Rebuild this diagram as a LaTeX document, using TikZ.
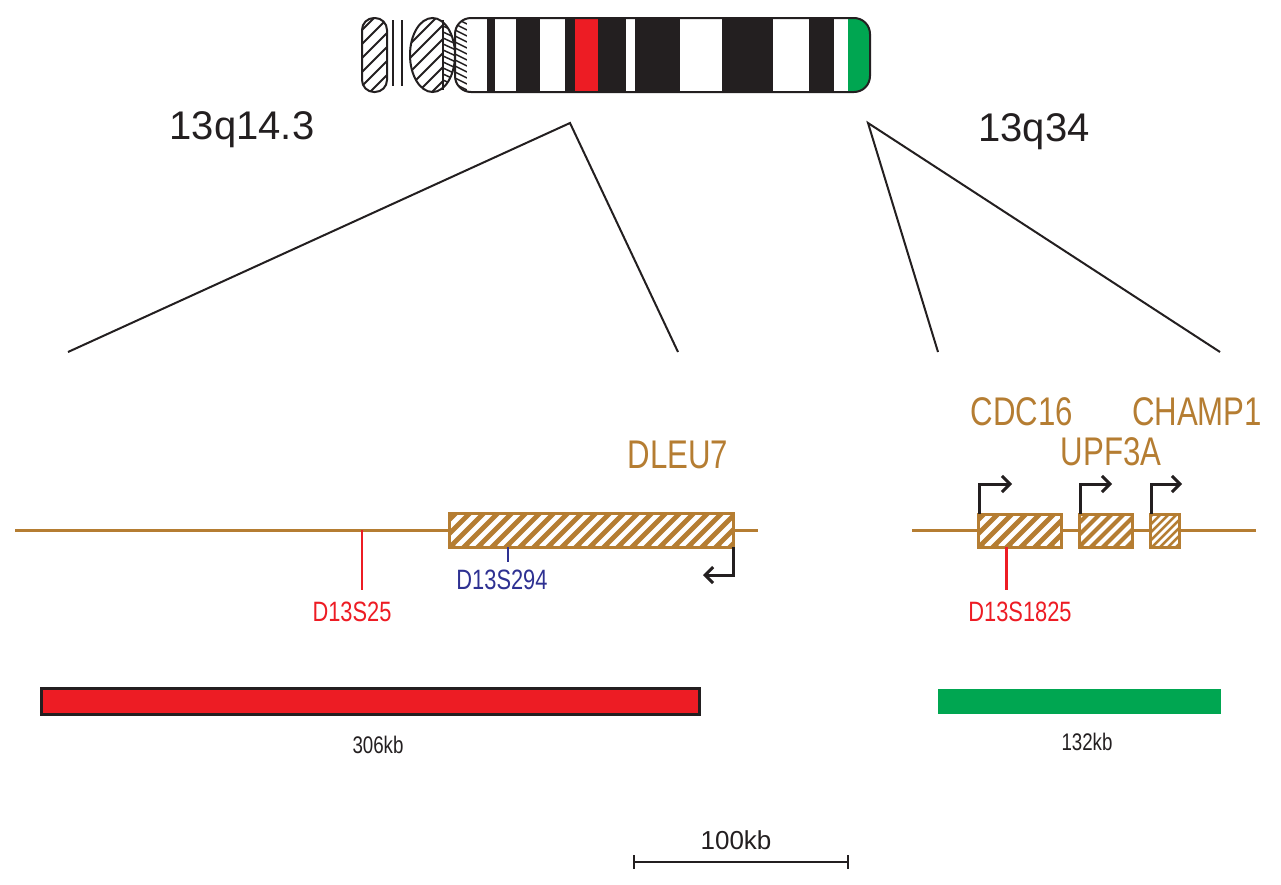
\documentclass[tikz,border=0pt]{standalone}
\usepackage{fontspec}
\setmainfont{Liberation Sans}
\newfontfamily\narrowfont{Liberation Sans}[FakeStretch=0.78]
\usepackage{tikz}
\definecolor{genebrown}{RGB}{181,125,50}
\definecolor{delred}{RGB}{237,28,36}
\definecolor{ampgreen}{RGB}{0,166,81}
\definecolor{markblue}{RGB}{46,49,146}
\definecolor{bandblack}{RGB}{35,31,32}
\tikzset{
  gene/.style={genebrown, line width=3pt},
  glabel/.style={text=genebrown, font=\narrowfont\fontsize{40}{40}\selectfont},
  mlabel/.style={font=\narrowfont\fontsize{28}{28}\selectfont},
  zoomline/.style={bandblack, line width=2pt},
  tss/.style={bandblack, line width=3pt, -{Straight Barb[length=8pt,width=16pt]}},
}
\usetikzlibrary{arrows.meta}
% hatched box: x1, y1, x2, y2, spacing, stripe colour, background
\newcommand{\hatchbox}[7]{%
  \begin{scope}
    \clip (#1,#2) rectangle (#3,#4);
    \fill[#7] (#1,#2) rectangle (#3,#4);
    \pgfmathtruncatemacro{\hstep}{-90+#5}
    \foreach \s in {-90,\hstep,...,420}
      \draw[#6, line width=#5*0.35pt] (#1+\s,#4) -- ++(90,-90);
  \end{scope}}
\begin{document}
\begin{tikzpicture}[x=1pt, y=-1pt]
	\useasboundingbox (0,0) rectangle (1281,884);

	% chromosome, short arm
	\begin{scope}
	  \clip[rounded corners=12pt] (362,18) rectangle (387,92);
	  \foreach \s in {-90,-76,...,40}
	    \draw[bandblack, line width=2pt] (362+\s,92) -- ++(90,-90);
	\end{scope}
	\draw[bandblack, line width=2pt, rounded corners=12pt] (362,18) rectangle (387,92);
	\draw[bandblack, line width=1.5pt] (393,20) -- (393,86);
	\draw[bandblack, line width=1.5pt] (402,20) -- (402,86);
	\begin{scope}
	  \clip (432.5,55) ellipse [x radius=22.5, y radius=37];
	  \foreach \s in {-90,-76,...,40}
	    \draw[bandblack, line width=2pt] (410+\s,92) -- ++(90,-90);
	  \fill[white] (443,18) rectangle (456,92);
	  \foreach \y in {20,26,...,92}
	    \draw[bandblack, line width=1.5pt] (443,\y) -- (456,\y+6);
	\end{scope}
	\draw[bandblack, line width=2pt] (432.5,55) ellipse [x radius=22.5, y radius=37];
	\draw[bandblack, line width=1.5pt] (443,20) -- (443,90);

	% chromosome, long arm
	\begin{scope}
	  \clip[rounded corners=16pt] (455,18) rectangle (870,92);
	  \fill[bandblack] (455,18) rectangle (870,92);
	  \fill[white] (455,18) rectangle (467,92);
	  \foreach \y in {18,24,...,92}
	    \draw[bandblack, line width=1.5pt] (455,\y) -- (467,\y+6);
	  \foreach \a/\b in {467/487,495/516,540/565,626/635,680/722,773/809,834/848}
	    \fill[white] (\a,18) rectangle (\b,92);
	  \fill[delred] (575,18) rectangle (598,92);
	  \fill[ampgreen] (848,18) rectangle (870,92);
	\end{scope}
	\draw[bandblack, line width=2pt, rounded corners=16pt] (455,18) rectangle (870,92);

	% zoom lines
	\coordinate (bandL) at (570,123);
	\coordinate (bandR) at (868,123);
	\coordinate (leftA) at (68,352);
	\coordinate (leftB) at (678,352);
	\coordinate (rightA) at (938,352);
	\coordinate (rightB) at (1220,352);
	\draw[zoomline] (leftA) -- (bandL) -- (leftB);
	\draw[zoomline] (rightA) -- (bandR) -- (rightB);
	\node[font=\fontsize{40}{40}\selectfont, text=bandblack] (q143) at (242,130) {13q14.3};
	\node[font=\fontsize{40}{40}\selectfont, text=bandblack] (q34) at (1034,132) {13q34};

	% 13q14.3 region
	\draw[gene] (15,530) -- (758,530);
	\hatchbox{449}{513}{733}{547}{14}{white}{genebrown}
	\draw[gene] (449,513) rectangle (733,547);
	\node[glabel] (dleu) at (678,455) {DLEU7};
	\coordinate (dleuS) at (733,547);
	\draw[tss] (dleuS) |- (703,575);
	\draw[delred, line width=2pt] (362,530) -- (362,590);
	\node[mlabel, text=delred] (d25) at (352,612) {D13S25};
	\draw[markblue, line width=2pt] (508,547) -- (508,562);
	\node[mlabel, text=markblue] (d294) at (502,580) {D13S294};

	% 13q34 region
	\draw[gene] (912,530) -- (1256,530);
	\hatchbox{978}{514}{1061}{547}{14}{white}{genebrown}
	\hatchbox{1079}{514}{1132}{547}{12}{white}{genebrown}
	\hatchbox{1150}{514}{1179}{547}{8}{white}{genebrown}
	\draw[gene] (978,514) rectangle (1061,547);
	\draw[gene] (1079,514) rectangle (1132,547);
	\draw[gene] (1150,514) rectangle (1179,547);
	\coordinate (cdcS) at (979,514);
	\coordinate (upfS) at (1080,514);
	\coordinate (chaS) at (1151,514);
	\draw[tss] (cdcS) |- (1012,484);
	\draw[tss] (upfS) |- (1112,484);
	\draw[tss] (chaS) |- (1182,484);
	\node[glabel] (cdc) at (1022,412) {CDC16};
	\node[glabel] (upf) at (1111,452) {UPF3A};
	\node[glabel] (cha) at (1197,412) {CHAMP1};
	\draw[delred, line width=3pt] (1006,547) -- (1006,590);
	\node[mlabel, text=delred] (d1825) at (1020,612) {D13S1825};

	% extent bars
	\draw[bandblack, fill=delred, line width=3pt] (41,688) rectangle (699,714);
	\node[mlabel, text=bandblack, font=\narrowfont\fontsize{24}{24}\selectfont] (kb306) at (378,745) {306kb};
	\fill[ampgreen] (938,689) rectangle (1221,714);
	\node[mlabel, text=bandblack, font=\narrowfont\fontsize{24}{24}\selectfont] (kb132) at (1087,742) {132kb};

	% scale bar
	\coordinate (sbL) at (634,862);
	\coordinate (sbR) at (848,862);
	\draw[bandblack, line width=2.5pt] (sbL) -- (sbR);
	\draw[bandblack, line width=2.5pt] (634,855) -- (634,869) (848,855) -- (848,869);
	\node[font=\fontsize{26}{26}\selectfont, text=bandblack] (kb100) at (736,840) {100kb};
\end{tikzpicture}
\end{document}
